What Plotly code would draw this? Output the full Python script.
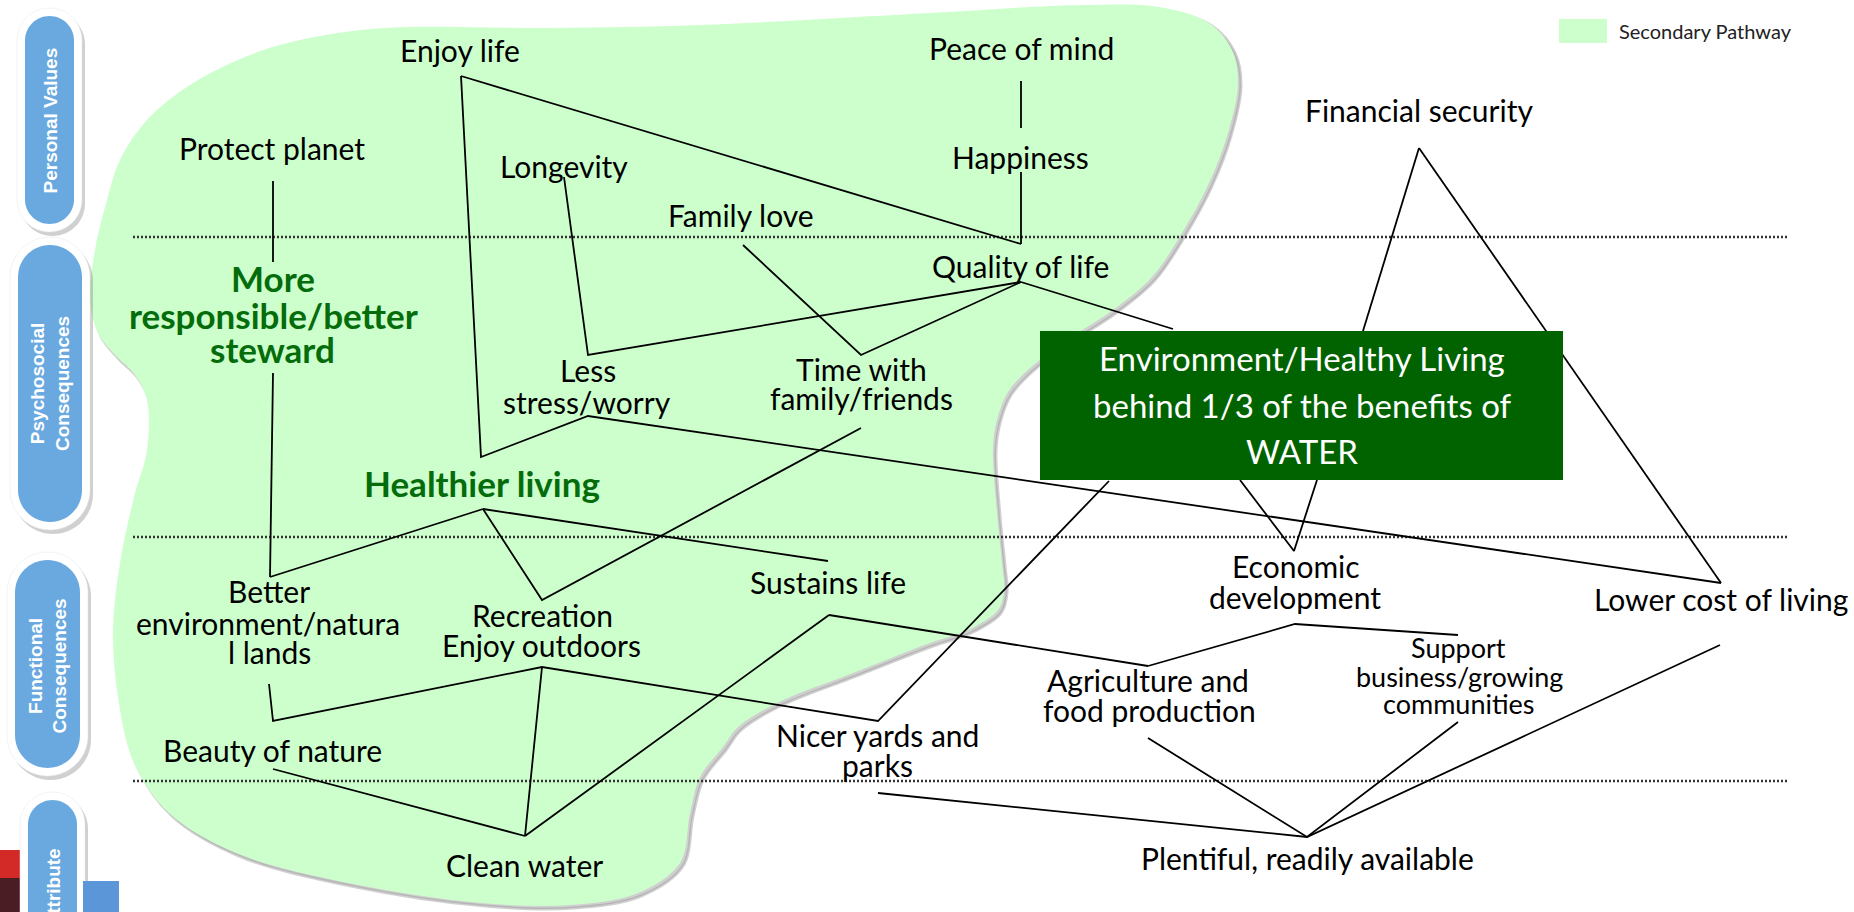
import plotly.graph_objects as go

W, H = 1854, 912

# ---------------- data ----------------
# Node labels (one entry per text line) and their centre positions (canvas pixels)
label_text = ["Enjoy life", "Peace of mind", "Protect planet", "Longevity", "Happiness",
              "Family love", "Financial security", "Quality of life",
              "Less", "stress/worry", "Time with", "family/friends",
              "Better", "environment/natura", "l lands", "Recreation", "Enjoy outdoors",
              "Sustains life", "Economic", "development", "Lower cost of living",
              "Agriculture and", "food production", "Nicer yards and", "parks",
              "Beauty of nature", "Clean water", "Plentiful, readily available"]
label_x = [460, 1021, 272, 564, 1020, 741, 1419, 1020, 588, 587, 861, 861,
           269, 268, 269, 542, 541, 828, 1296, 1295, 1721, 1148, 1149, 877, 877,
           272, 524, 1307]
label_y = [50, 48, 148, 166, 157, 215, 110, 266, 370, 402, 369, 398,
           591, 623, 652, 615, 645, 582, 566, 597, 599, 680, 710, 735, 765,
           750, 865, 858]

small_text = ["Support", "business/growing", "communities"]
small_x = [1458, 1459, 1459]
small_y = [647, 676, 703]

bold_text = ["More", "responsible/better", "steward", "Healthier living"]
bold_x = [273, 273, 272, 482]
bold_y = [278, 315, 349, 483]

box_text = ["Environment/Healthy Living", "behind 1/3 of the benefits of", "WATER"]
box_text_y = [358, 405, 451]
box_x0, box_x1, box_y0, box_y1 = 1040, 1563, 331, 480

# Anchor points of the connecting lines
anchors = {
    "enjoy_apex": (461, 76), "healthier_top": (481, 457), "less_bot": (588, 416),
    "less_top": (588, 355), "longevity_bot": (564, 177), "family_bot": (743, 245),
    "time_top": (861, 355), "time_bot": (861, 428), "quality_top": (1021, 244),
    "quality_bot": (1021, 282), "happy_bot": (1021, 172), "peace_bot": (1021, 81),
    "happy_top": (1021, 128), "box_top_q": (1173, 329), "fin_apex": (1419, 148),
    "box_top_f": (1363, 331), "lower_apex": (1721, 583), "lower_bot": (1720, 645),
    "econ_top": (1294, 551), "box_bot_e1": (1240, 480), "box_bot_e2": (1317, 480),
    "econ_bot": (1295, 624), "support_top": (1458, 635), "agri_top": (1148, 666),
    "agri_bot": (1148, 738), "support_bot": (1458, 722), "plent_apex": (1307, 837),
    "nicer_top": (878, 721), "nicer_bot": (878, 793), "box_bot_n": (1109, 481),
    "sustain_top": (828, 561), "sustain_bot": (829, 615), "healthier_bot": (483, 509),
    "better_top": (270, 577), "better_bot": (269, 684), "recre_top": (542, 600),
    "recre_bot": (542, 667), "beauty_top": (273, 721), "beauty_bot": (273, 769),
    "clean_apex": (525, 836), "protect_bot": (273, 181), "more_top": (273, 262),
    "more_bot": (273, 373),
}
edges = [
    ["protect_bot", "more_top"],
    ["more_bot", "better_top"],
    ["enjoy_apex", "healthier_top", "less_bot", "lower_apex"],
    ["enjoy_apex", "quality_top"],
    ["peace_bot", "happy_top"],
    ["happy_bot", "quality_top"],
    ["longevity_bot", "less_top", "quality_bot"],
    ["family_bot", "time_top", "quality_bot"],
    ["quality_bot", "box_top_q"],
    ["fin_apex", "box_top_f"],
    ["fin_apex", "lower_apex"],
    ["box_bot_e1", "econ_top", "box_bot_e2"],
    ["agri_top", "econ_bot", "support_top"],
    ["sustain_bot", "agri_top"],
    ["clean_apex", "sustain_bot"],
    ["healthier_bot", "sustain_top"],
    ["healthier_bot", "better_top"],
    ["healthier_bot", "recre_top", "time_bot"],
    ["better_bot", "beauty_top", "recre_bot", "nicer_top", "box_bot_n"],
    ["recre_bot", "clean_apex"],
    ["beauty_bot", "clean_apex"],
    ["agri_bot", "plent_apex", "support_bot"],
    ["nicer_bot", "plent_apex", "lower_bot"],
]

# Secondary pathway region outline
blob_x = [384, 550, 700, 930, 1083, 1159, 1209, 1232, 1238, 1228, 1209, 1182, 1152, 1113,
          1067, 1030, 1008, 997, 993, 997, 1002, 1004, 998, 968, 930, 853, 777, 738, 723,
          700, 690, 680, 638, 571, 482, 348, 236, 169, 134, 118, 113, 120, 134, 147, 147,
          135, 115, 98, 90, 95, 107, 120, 147, 190, 250, 300, 384]
blob_y = [28, 28, 25, 13, 5, 7, 23, 50, 83, 133, 183, 233, 277, 310,
          340, 368, 392, 420, 448, 513, 563, 590, 610, 630, 643, 673, 703, 727, 747,
          777, 813, 863, 893, 905, 903, 883, 853, 813, 763, 697, 630, 563, 497, 450, 400,
          375, 355, 333, 300, 250, 200, 160, 120, 85, 55, 40, 28]

# Level separators
sep_y = [237, 537, 781]
sep_x = [133, 1788]

# Level pills on the left
pill_text = ["Personal Values", "Psychosocial<br>Consequences", "Functional<br>Consequences", "Attribute"]
pill_x0 = [25, 18, 15, 28]
pill_x1 = [74, 82, 80, 77]
pill_y0 = [16, 245, 560, 800]
pill_y1 = [224, 522, 768, 1000]
pill_label_y = [121, 384, 666, 888]

legend_label = "Secondary Pathway"

# ---------------- figure ----------------
GREEN_FILL = "#CCFFCC"
FONT = "Lato"

fig = go.Figure()

# blob shadow + blob
fig.add_trace(go.Scatter(x=[v + 3 for v in blob_x], y=[v + 3 for v in blob_y], mode="lines",
                         line=dict(width=3, color="rgba(150,150,150,0.45)", shape="spline"),
                         fill="toself", fillcolor="rgba(150,150,150,0.45)", hoverinfo="skip",
                         showlegend=False))
fig.add_trace(go.Scatter(x=blob_x, y=blob_y, mode="lines",
                         line=dict(width=0, color=GREEN_FILL, shape="spline"),
                         fill="toself", fillcolor=GREEN_FILL, hoverinfo="skip",
                         showlegend=False))

# separators
for y in sep_y:
    fig.add_trace(go.Scatter(x=sep_x, y=[y, y], mode="lines",
                             line=dict(color="#333333", width=2.5, dash="2px,2px"),
                             hoverinfo="skip", showlegend=False))

# edges
ex, ey = [], []
for path in edges:
    for name in path:
        ex.append(anchors[name][0])
        ey.append(anchors[name][1])
    ex.append(None)
    ey.append(None)
fig.add_trace(go.Scatter(x=ex, y=ey, mode="lines", line=dict(color="black", width=1.8),
                         hoverinfo="skip", showlegend=False))

shapes = []

def rr_path(x0, y0, x1, y1, r):
    k = 0.5523 * r
    return (f"M {x0+r},{y0} L {x1-r},{y0} C {x1-r+k},{y0} {x1},{y0+r-k} {x1},{y0+r} "
            f"L {x1},{y1-r} C {x1},{y1-r+k} {x1-r+k},{y1} {x1-r},{y1} "
            f"L {x0+r},{y1} C {x0+r-k},{y1} {x0},{y1-r+k} {x0},{y1-r} "
            f"L {x0},{y0+r} C {x0},{y0+r-k} {x0+r-k},{y0} {x0+r},{y0} Z")

# bottom-left decorative bands
shapes.append(dict(type="rect", x0=0, x1=60, y0=850, y1=878, fillcolor="#D42A27",
                   line=dict(width=0), layer="above"))
shapes.append(dict(type="rect", x0=0, x1=60, y0=878, y1=912, fillcolor="#4A1C24",
                   line=dict(width=0), layer="above"))

for i in range(len(pill_text)):
    x0, x1, y0, y1 = pill_x0[i], pill_x1[i], pill_y0[i], pill_y1[i]
    b = 8
    r_out = (x1 - x0) / 2 + b
    r_in = (x1 - x0) / 2
    shapes.append(dict(type="path", path=rr_path(x0 - b + 3, y0 - b + 4, x1 + b + 3, y1 + b + 4, r_out),
                       fillcolor="rgba(120,120,120,0.35)", line=dict(width=0), layer="above"))
    shapes.append(dict(type="path", path=rr_path(x0 - b, y0 - b, x1 + b, y1 + b, r_out),
                       fillcolor="white", line=dict(width=0.5, color="#e6e6e6"), layer="above"))
    shapes.append(dict(type="path", path=rr_path(x0, y0, x1, y1, r_in),
                       fillcolor="#6AA9E0", line=dict(width=0), layer="above"))

shapes.append(dict(type="rect", x0=83, x1=119, y0=881, y1=912, fillcolor="#5B96D8",
                   line=dict(width=0), layer="above"))

# dark green box
shapes.append(dict(type="rect", x0=box_x0, x1=box_x1, y0=box_y0, y1=box_y1,
                   fillcolor="#006300", line=dict(width=0), layer="above"))
# legend swatch
shapes.append(dict(type="rect", x0=1559, x1=1607, y0=19, y1=43, fillcolor=GREEN_FILL,
                   line=dict(width=0), layer="above"))

annotations = []
for t, x, y in zip(label_text, label_x, label_y):
    annotations.append(dict(x=x, y=y, text=t, showarrow=False, xanchor="center", yanchor="middle",
                            font=dict(family=FONT, size=30, color="black")))
for t, x, y in zip(small_text, small_x, small_y):
    annotations.append(dict(x=x, y=y, text=t, showarrow=False, xanchor="center", yanchor="middle",
                            font=dict(family=FONT, size=27, color="black")))
for t, x, y in zip(bold_text, bold_x, bold_y):
    annotations.append(dict(x=x, y=y, text=f"<b>{t}</b>", showarrow=False, xanchor="center",
                            yanchor="middle", font=dict(family=FONT, size=35, color="#046C0A")))
box_cx = (box_x0 + box_x1) / 2
for t, y in zip(box_text, box_text_y):
    annotations.append(dict(x=box_cx, y=y, text=t, showarrow=False, xanchor="center",
                            yanchor="middle", font=dict(family=FONT, size=33, color="white")))
for i, t in enumerate(pill_text):
    annotations.append(dict(x=(pill_x0[i] + pill_x1[i]) / 2, y=pill_label_y[i], text=f"<b>{t}</b>",
                            showarrow=False, textangle=-90, xanchor="center", yanchor="middle",
                            font=dict(family="Liberation Sans", size=19, color="white")))
annotations.append(dict(x=1617, y=31, text=legend_label, showarrow=False, xanchor="left",
                        yanchor="middle", font=dict(family=FONT, size=20, color="#222222")))

fig.update_layout(
    width=W, height=H, margin=dict(l=0, r=0, t=0, b=0),
    paper_bgcolor="white", plot_bgcolor="white",
    xaxis=dict(range=[0, W], visible=False, fixedrange=True),
    yaxis=dict(range=[H, 0], visible=False, fixedrange=True),
    shapes=shapes, annotations=annotations, showlegend=False,
)

fig.write_html("out.html", config={"displayModeBar": False},
               post_script="document.body.style.margin='0px';document.body.style.overflow='hidden';")
